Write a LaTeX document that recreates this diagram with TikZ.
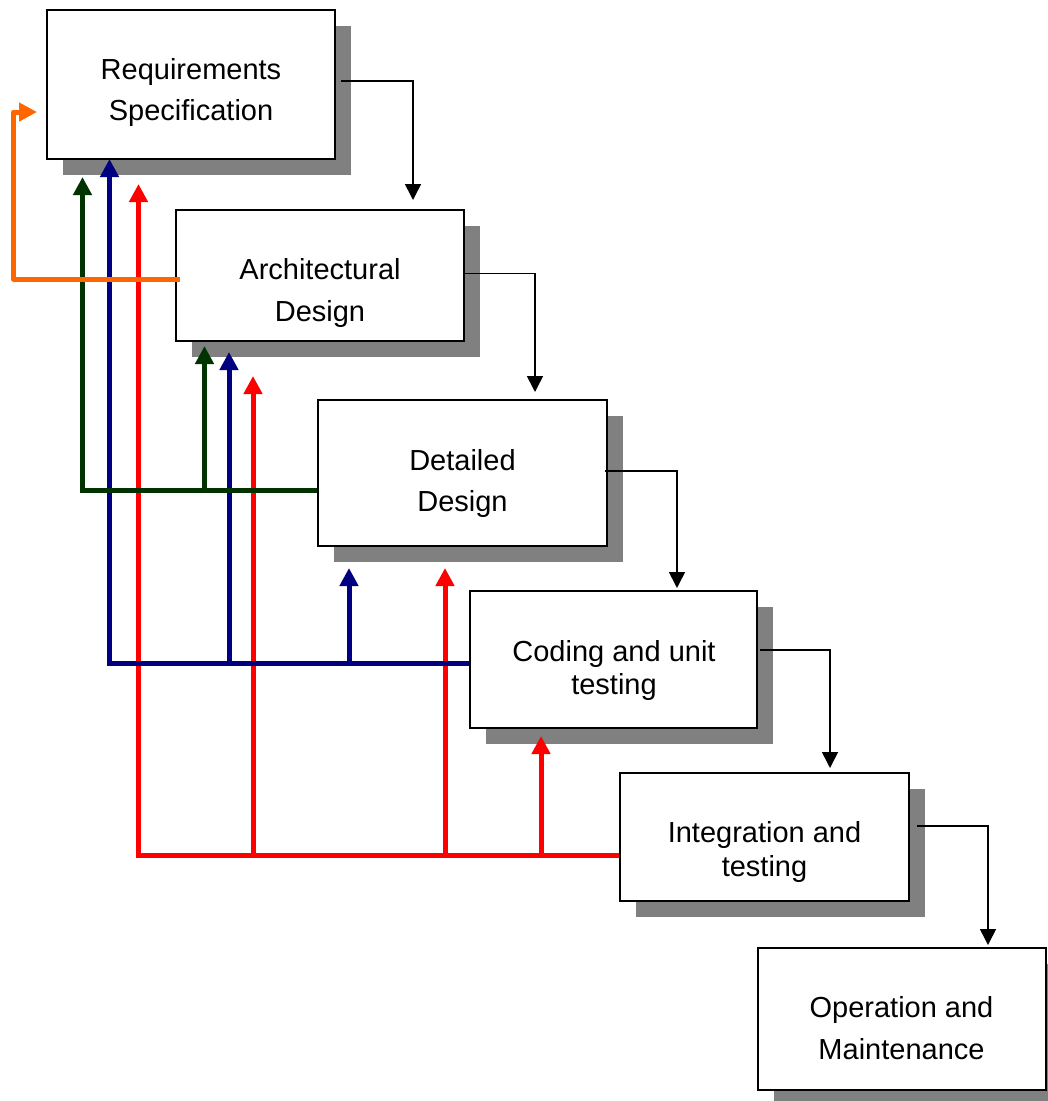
\documentclass[tikz,border=0pt]{standalone}
\usepackage{fontspec}
\setmainfont{Liberation Sans}
\usetikzlibrary{arrows.meta,shadows}

\definecolor{fbOrange}{RGB}{255,102,0}
\definecolor{fbGreen}{RGB}{0,51,0}
\definecolor{fbBlue}{RGB}{0,0,128}
\definecolor{fbRed}{RGB}{255,0,0}

\tikzset{
  phase/.style={draw=black, line width=2pt, fill=white, inner sep=0pt,
    rectangle,
    drop shadow={shadow xshift=16pt, shadow yshift=-16pt, fill=black!50, opacity=1}},
  phasetext/.style={align=center, inner sep=0pt},
  flow/.style={draw=black, line width=1.6pt,
    -{Triangle[width=16pt,length=16pt]}},
  feedback/.style={line width=5pt,
    -{Triangle[width=18pt,length=18pt]}},
}

\begin{document}
\begin{tikzpicture}[x=1pt,y=-1pt]
\useasboundingbox (0,0) rectangle (1048,1101);

% phase boxes
\node[phase, minimum width=288pt, minimum height=149pt] (r1) at (191,84.5) {};
\node[phase, minimum width=288pt, minimum height=131pt] (r2) at (320,275) {};
\node[phase, minimum width=289pt, minimum height=146pt] (r3) at (462.5,473) {};
\node[phase, minimum width=287pt, minimum height=137pt] (r4) at (613.5,659) {};
\node[phase, minimum width=289pt, minimum height=128pt] (r5) at (764.5,837) {};
\node[phase, minimum width=288pt, minimum height=142pt] (r6) at (902,1019) {};

% phase names
\node[phasetext, font=\fontsize{29}{41}\selectfont] (t1) at (191,92)
  {Requirements\\Specification};
\node[phasetext, font=\fontsize{29}{42}\selectfont] (t2) at (320,293)
  {Architectural\\Design};
\node[phasetext, font=\fontsize{29}{41}\selectfont] (t3) at (462.5,483)
  {Detailed\\Design};
\node[phasetext, font=\fontsize{29}{33}\selectfont] (t4) at (614,670)
  {Coding and unit\\testing};
\node[phasetext, font=\fontsize{29}{34}\selectfont] (t5) at (764.5,852)
  {Integration and\\testing};
\node[phasetext, font=\fontsize{29}{42}\selectfont] (t6) at (901.5,1028)
  {Operation and\\Maintenance};

% forward flow between phases
\coordinate (f1) at (413,200);
\coordinate (f2) at (535,392);
\coordinate (f3) at (677,588);
\coordinate (f4) at (830,768);
\coordinate (f5) at (988,945);
\draw[flow] ([xshift=5pt]r1.east |- 0,81) -| (f1);
\draw[flow] (r2.east |- 0,273.5) -| (f2);
\draw[flow] ([xshift=-3pt]r3.east |- 0,471) -| (f3);
\draw[flow] ([xshift=2pt]r4.east |- 0,650) -| (f4);
\draw[flow] ([xshift=7pt]r5.east |- 0,826) -| (f5);

% feedback from integration and testing
\coordinate (red1) at (138.5,184);
\coordinate (red2) at (253,376);
\coordinate (red3) at (445,568);
\coordinate (red4) at (541,736);
\draw[feedback, draw=fbRed] (r5.west |- 0,855) -- (138.5,855) -- (red1);
\draw[feedback, draw=fbRed] (253,855) -- (red2);
\draw[feedback, draw=fbRed] (445,855) -- (red3);
\draw[feedback, draw=fbRed] (541,855) -- (red4);

% feedback from coding and unit testing
\coordinate (blue1) at (109.5,159);
\coordinate (blue2) at (229,352);
\coordinate (blue3) at (349,568);
\draw[feedback, draw=fbBlue] (r4.west |- 0,663.5) -- (109.5,663.5) -- (blue1);
\draw[feedback, draw=fbBlue] (229,663.5) -- (blue2);
\draw[feedback, draw=fbBlue] (349,663.5) -- (blue3);

% feedback from detailed design
\coordinate (green1) at (82.5,177);
\coordinate (green2) at (204.5,346);
\draw[feedback, draw=fbGreen] (r3.west |- 0,490) -- (82.5,490) -- (green1);
\draw[feedback, draw=fbGreen] (204.5,490) -- (green2);

% feedback from architectural design
\coordinate (orange1) at (37,112);
\draw[feedback, draw=fbOrange, line join=round]
  ([xshift=5pt]r2.west |- 0,279) -- (13.5,279) -- (13.5,112) -- (orange1);

\end{tikzpicture}
\end{document}
